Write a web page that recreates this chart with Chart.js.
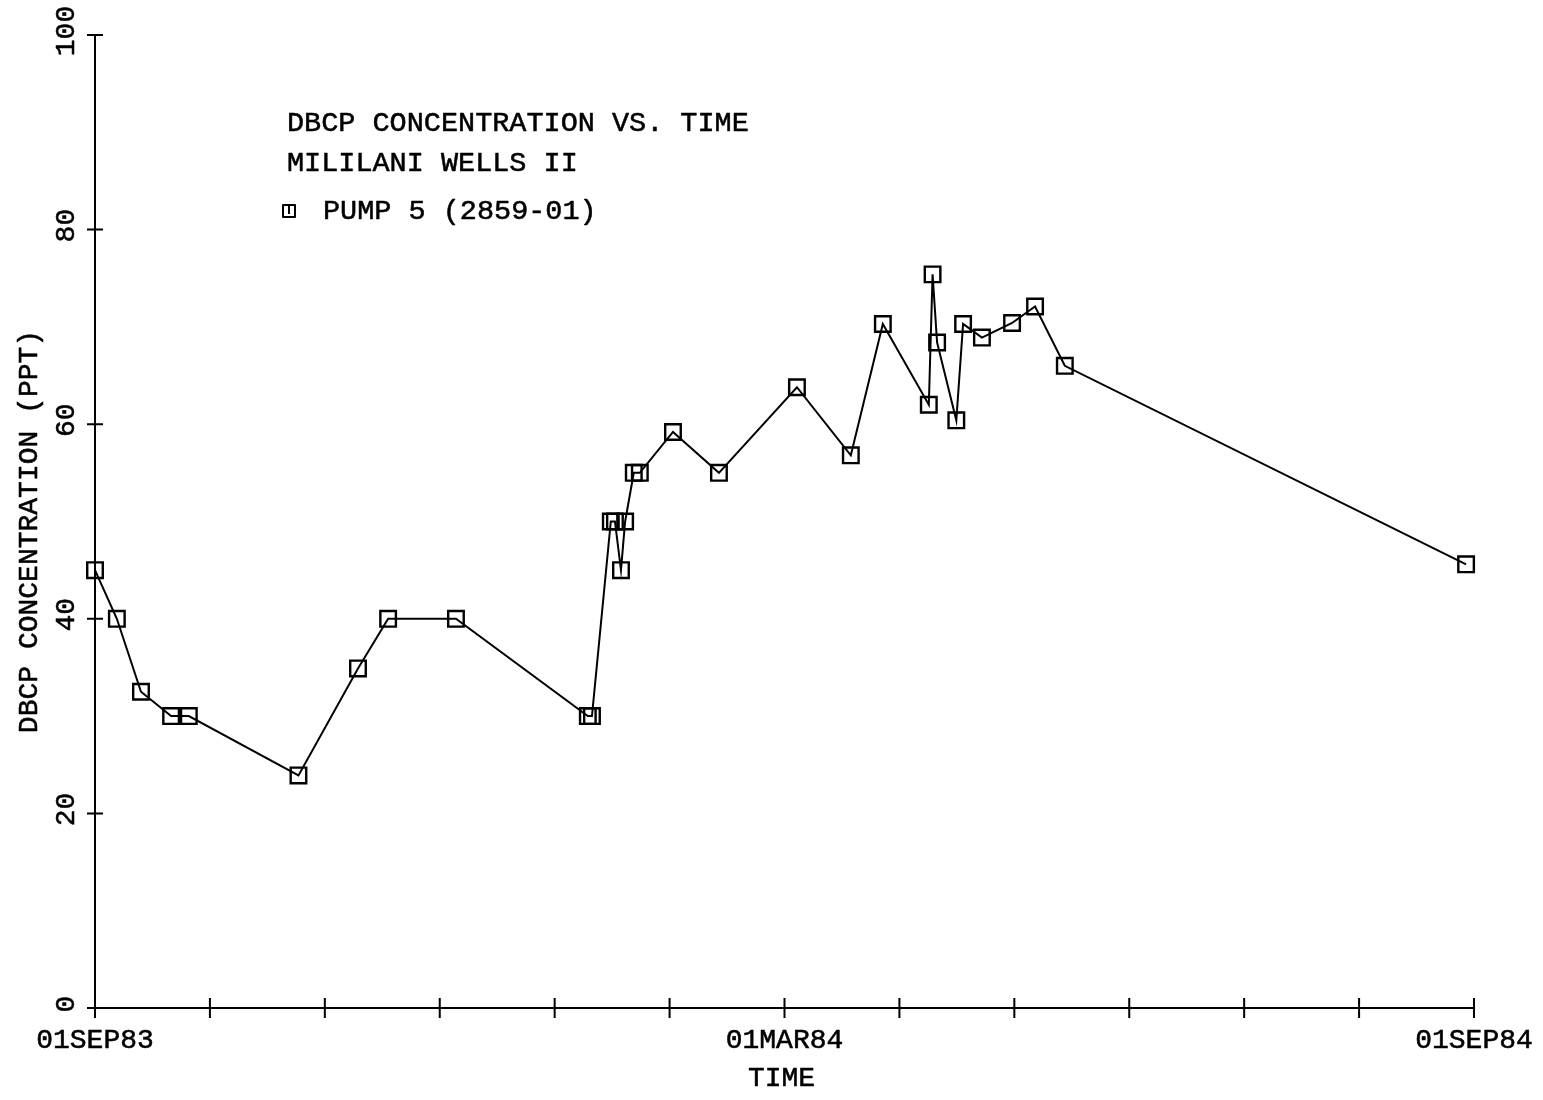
<!DOCTYPE html>
<html>
<head>
<meta charset="utf-8">
<script src="https://cdn.jsdelivr.net/npm/chart.js@4"></script>
<style>
  html, body { margin: 0; padding: 0; background: #fff; }
  canvas { display: block; }
</style>
</head>
<body>
<canvas id="c" width="1543" height="1100"></canvas>
<script>
// Chart text
const titleLines = ['DBCP CONCENTRATION VS. TIME', 'MILILANI WELLS II'];
const seriesLabel = 'PUMP 5 (2859-01)';
const xTitle = 'TIME';
const yTitle = 'DBCP CONCENTRATION (PPT)';

// Sampling dates as days after 01SEP83, and measured DBCP (ppt)
const sampleDay = [0.0, 5.8, 12.2, 20.2, 24.9, 54.0, 69.8, 77.8, 95.8,
  130.8, 131.9, 136.9, 138.0, 139.6, 140.7, 143.0, 144.6, 153.4, 165.6,
  186.3, 200.6, 209.1, 221.3, 222.3, 223.5, 228.6, 230.4, 235.4, 243.4,
  249.5, 257.4, 363.9];
const dbcp = [45, 40, 32.5, 30, 30, 23.9, 34.9, 40, 40,
  30, 30, 50, 50, 45, 50, 55, 55, 59.2, 55,
  63.8, 56.8, 70.3, 62, 75.4, 68.4, 60.4, 70.3, 68.9, 70.4,
  72.1, 66, 45.6];

// Axis ticks: monthly marks over the year, labelled every six months
const monthTicks = [0, 30.5, 61, 91.5, 122, 152.5, 183, 213.5, 244, 274.5, 305, 335.5, 366];
const monthLabels = ['01SEP83', '', '', '', '', '', '01MAR84', '', '', '', '', '', '01SEP84'];
const yTicks = [0, 20, 40, 60, 80, 100];

const FONT = '"Liberation Mono", "DejaVu Sans Mono", monospace';
const TEXT_STROKE = 0.55;

// filled text with a thin outline, for a pen-plotter weight
function penText(ctx, s, x, y) {
  ctx.fillText(s, x, y);
  ctx.strokeText(s, x, y);
}

// Plotter-style decorations: crossing tick marks, upright axis text, header and key
const plotterMarks = {
  id: 'plotterMarks',
  afterDraw(chart) {
    const { ctx, chartArea: a, scales: { x, y } } = chart;
    ctx.save();
    ctx.strokeStyle = '#000';
    ctx.fillStyle = '#000';
    ctx.lineWidth = 2;

    // tick marks crossing both axes
    ctx.beginPath();
    x.ticks.forEach(t => {
      const px = x.getPixelForValue(t.value);
      ctx.moveTo(px, a.bottom - 10);
      ctx.lineTo(px, a.bottom + 10);
    });
    y.ticks.forEach(t => {
      const py = y.getPixelForValue(t.value);
      ctx.moveTo(a.left - 8, py);
      ctx.lineTo(a.left + 8, py);
    });
    ctx.stroke();

    ctx.lineWidth = TEXT_STROKE;
    ctx.lineJoin = 'round';

    // y tick labels, turned to read upward
    ctx.font = '28px ' + FONT;
    ctx.textAlign = 'center';
    ctx.textBaseline = 'middle';
    y.ticks.forEach(t => {
      const py = y.getPixelForValue(t.value);
      ctx.save();
      ctx.translate(a.left - 28, py - 4);
      ctx.rotate(-Math.PI / 2);
      penText(ctx, String(t.value), 0, 0);
      ctx.restore();
    });

    // y axis title
    ctx.save();
    ctx.translate(30, (a.top + a.bottom) / 2 + 10);
    ctx.rotate(-Math.PI / 2);
    penText(ctx, yTitle, 0, 0);
    ctx.restore();

    // x axis title
    penText(ctx, xTitle, (a.left + a.right) / 2 - 3, a.bottom + 71);

    // header lines
    ctx.font = '28.5px ' + FONT;
    ctx.textAlign = 'left';
    titleLines.forEach((s, i) => {
      penText(ctx, s, a.left + 192, a.top + 88 + i * 40);
    });

    // key: square symbol and series name
    const kx = a.left + 194, ky = a.top + 176;
    ctx.lineWidth = 2;
    ctx.strokeRect(kx - 6, ky - 6, 12, 12);
    ctx.beginPath();
    ctx.moveTo(kx, ky - 6);
    ctx.lineTo(kx, ky + 3);
    ctx.stroke();
    ctx.lineWidth = TEXT_STROKE;
    penText(ctx, seriesLabel, a.left + 228, ky);
    ctx.restore();
  }
};

new Chart(document.getElementById('c'), {
  type: 'line',
  data: {
    datasets: [{
      label: seriesLabel,
      data: sampleDay.map((d, i) => ({ x: d, y: dbcp[i] })),
      borderColor: '#000',
      borderWidth: 2,
      tension: 0,
      clip: false,
      pointStyle: 'rect',
      pointRadius: 11,
      pointBorderWidth: 2.4,
      pointBorderColor: '#000',
      pointBackgroundColor: 'rgba(0,0,0,0)',
      fill: false
    }]
  },
  options: {
    responsive: false,
    animation: false,
    devicePixelRatio: 1,
    layout: { padding: { top: 35, right: 69, left: 0, bottom: 0 } },
    plugins: {
      legend: { display: false },
      title: { display: false },
      tooltip: { enabled: false }
    },
    scales: {
      x: {
        type: 'linear',
        min: 0,
        max: 366,
        afterBuildTicks: s => { s.ticks = monthTicks.map(v => ({ value: v })); },
        afterFit: s => { s.height = 92; },
        grid: { display: false, drawTicks: true, tickLength: 10 },
        border: { display: true, color: '#000', width: 2 },
        ticks: {
          autoSkip: false,
          maxRotation: 0,
          minRotation: 0,
          padding: 6,
          color: '#000',
          textStrokeColor: '#000',
          textStrokeWidth: TEXT_STROKE,
          font: { family: FONT, size: 28 },
          callback: (v, i) => monthLabels[i]
        },
        title: { display: false }
      },
      y: {
        min: 0,
        max: 100,
        afterBuildTicks: s => { s.ticks = yTicks.map(v => ({ value: v })); },
        afterFit: s => { s.width = 95; },
        grid: { display: false },
        border: { display: true, color: '#000', width: 2 },
        ticks: { display: false }
      }
    }
  },
  plugins: [plotterMarks]
});
</script>
</body>
</html>
